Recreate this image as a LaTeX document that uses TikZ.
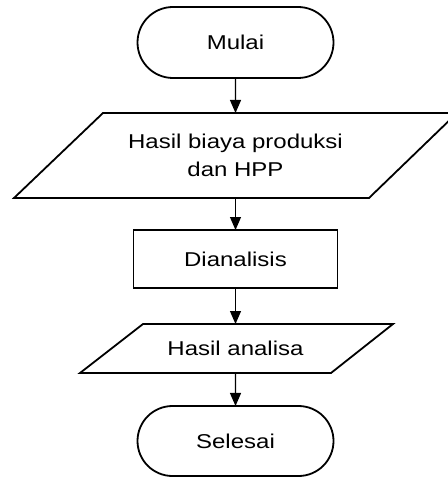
\documentclass[tikz,border=0pt]{standalone}
\usepackage{fontspec}
\newfontfamily\lsans[FakeStretch=1.2]{Liberation Sans}
\usetikzlibrary{shapes.misc,arrows.meta}
\begin{document}
\begin{tikzpicture}[x=1pt,y=-1pt,
  box/.style={draw, font=\lsans\fontsize{20}{28}\selectfont, line width=1.8pt, inner sep=0pt, outer sep=0pt, align=center},
  term/.style={box, rounded rectangle, minimum width=196pt, minimum height=71pt},
  proc/.style={box, rectangle, minimum width=204pt, minimum height=58pt},
  iotext/.style={box, draw=none, rectangle, minimum width=10pt},
  ioshape/.style={line width=1.8pt, line join=miter},
  flow/.style={line width=1.1pt, -{Triangle[width=11pt,length=13pt]}}]
\useasboundingbox (0,0) rectangle (447,478);
\node[term] (mulai) at (235.5,42.5) {Mulai};
\node[iotext, minimum height=85pt] (hasil) at (235.5,155.5) {Hasil biaya produksi\\dan HPP};
\draw[ioshape] ([xshift=-132.5pt]hasil.north) -- ([xshift=221.5pt]hasil.north)
  -- ([xshift=133.5pt]hasil.south) -- ([xshift=-221.5pt]hasil.south) -- cycle;
\node[proc] (anal) at (235.5,259) {Dianalisis};
\node[iotext, minimum height=49pt] (ha) at (235.5,348.5) {Hasil analisa};
\draw[ioshape] ([xshift=-92.5pt]ha.north) -- ([xshift=157.5pt]ha.north)
  -- ([xshift=95.5pt]ha.south) -- ([xshift=-155.5pt]ha.south) -- cycle;
\node[term, minimum height=70pt] (selesai) at (235.5,441) {Selesai};
\draw[flow] (mulai) -- (hasil);
\draw[flow] (hasil) -- (anal);
\draw[flow] (anal) -- (ha);
\draw[flow] (ha) -- (selesai);
\end{tikzpicture}
\end{document}
